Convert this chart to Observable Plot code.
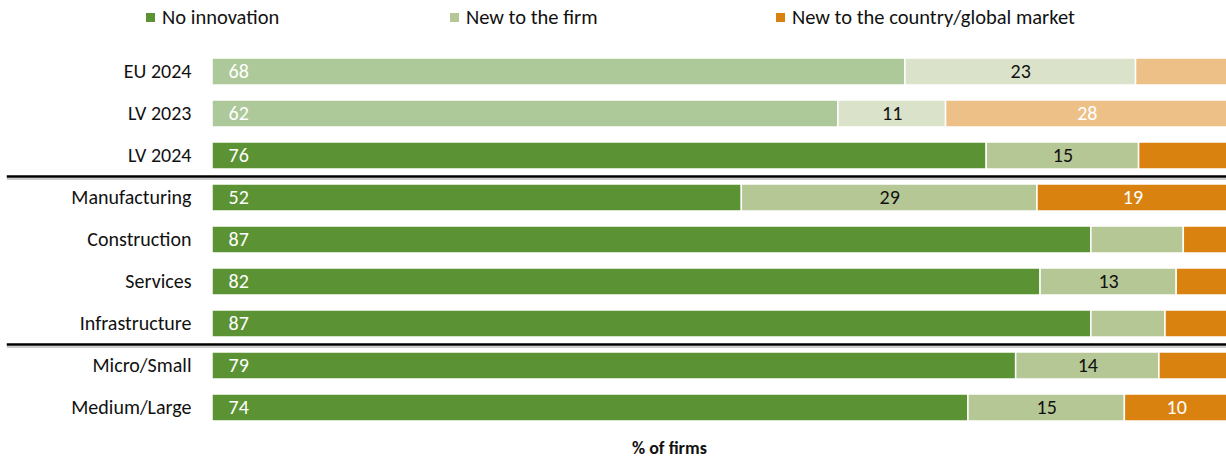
<!DOCTYPE html>
<html><head><meta charset="utf-8">
<script src="https://cdn.jsdelivr.net/npm/d3@7"></script>
<script src="https://cdn.jsdelivr.net/npm/@observablehq/plot@0.6"></script>
<style>
html,body{margin:0;padding:0;overflow:hidden;background:#fff;}
#wrap{position:relative;width:1226px;height:459px;font-family:Carlito,Lato,"Open Sans",sans-serif;color:#111;}
#legend{position:absolute;top:0;left:0;width:1226px;height:36px;}
.leg{position:absolute;top:5px;font-size:20.5px;line-height:24px;display:flex;align-items:center;white-space:nowrap;}
.sw{width:9px;height:9px;display:inline-block;margin-right:7px;}
#xlabel{position:absolute;top:437px;left:632px;font-size:18px;font-weight:bold;white-space:nowrap;}
#chart{position:absolute;top:0;left:0;}
</style>
</head><body>
<div id="wrap"><div id="chart"></div><div id="legend"></div><div id="xlabel"></div></div>
<script>
const rows = ["EU 2024","LV 2023","LV 2024","Manufacturing","Construction","Services","Infrastructure","Micro/Small","Medium/Large"];
const noInnovation = [68.2,61.6,76.2,52.1,86.5,81.5,86.5,79.1,74.4];
const newToFirm = [22.7,10.6,15.0,29.1,9.1,13.4,7.3,14.1,15.4];
const newToMarket = [9.1,27.8,8.8,18.8,4.4,5.1,6.2,6.8,10.2];
const series = ["No innovation","New to the firm","New to the country/global market"];
const colors = ["#5b9233","#b6c796","#d9820f"];
const labelColors = ["#ffffff","#111111","#ffffff"];
const fadedRows = ["EU 2024","LV 2023"];
const separatorsAfter = ["LV 2024","Infrastructure"];
const xLabel = "% of firms";

const seriesValues = [noInnovation, newToFirm, newToMarket];
const data = [];
rows.forEach((row, i) => {
  let acc = 0;
  series.forEach((s, j) => {
    const v = seriesValues[j][i];
    data.push({row, series: s, idx: j, value: v, x1: acc, x2: acc + v, faded: fadedRows.includes(row)});
    acc += v;
  });
});
const labelled = data.filter(d => Math.round(d.value) >= 10);

const plot = Plot.plot({
  width: 1226,
  height: 459,
  marginLeft: 212,
  marginRight: 0,
  marginTop: 0,
  marginBottom: 0,
  style: {fontFamily: "Carlito, Lato, 'Open Sans', sans-serif", fontSize: "20px", color: "#111", background: "transparent"},
  x: {domain: [0, 100], range: [212, 1228], axis: null},
  y: {domain: rows, range: [40, 438.5], padding: 0.366, label: null},
  color: {domain: series, range: colors},
  marks: [
    Plot.barX(data, {x1: "x1", x2: "x2", y: "row", fill: "series", fillOpacity: d => d.faded ? 0.5 : 1, stroke: "white", strokeWidth: 1.5}),
    Plot.text(labelled.filter(d => d.idx === 0), {x: "x1", y: "row", text: d => String(Math.round(d.value)), textAnchor: "start", dx: 16, fill: "#fff", fontSize: 20}),
    Plot.text(labelled.filter(d => d.idx > 0), {x: d => (d.x1 + d.x2) / 2, y: "row", text: d => String(Math.round(d.value)), fill: d => labelColors[d.idx], fontSize: 20}),
    Plot.ruleY(separatorsAfter, {y: d => d, dy: 20.6, x1: -20.2, x2: 100, stroke: "#000", strokeWidth: 2.5}),
    Plot.ruleY(separatorsAfter, {y: d => d, dy: 23, x1: -20.2, x2: 100, stroke: "#999", strokeWidth: 1}),
    Plot.axisY({tickSize: 0, tickPadding: 21, fontSize: 20, fill: "#111", label: null})
  ]
});
document.getElementById("chart").appendChild(plot);

const legendPos = [146, 450, 776];
const legend = document.getElementById("legend");
series.forEach((s, j) => {
  const el = document.createElement("div");
  el.className = "leg";
  el.style.left = legendPos[j] + "px";
  el.innerHTML = `<span class="sw" style="background:${colors[j]}"></span><span>${s}</span>`;
  legend.appendChild(el);
});
document.getElementById("xlabel").textContent = xLabel;
</script>
</body></html>
